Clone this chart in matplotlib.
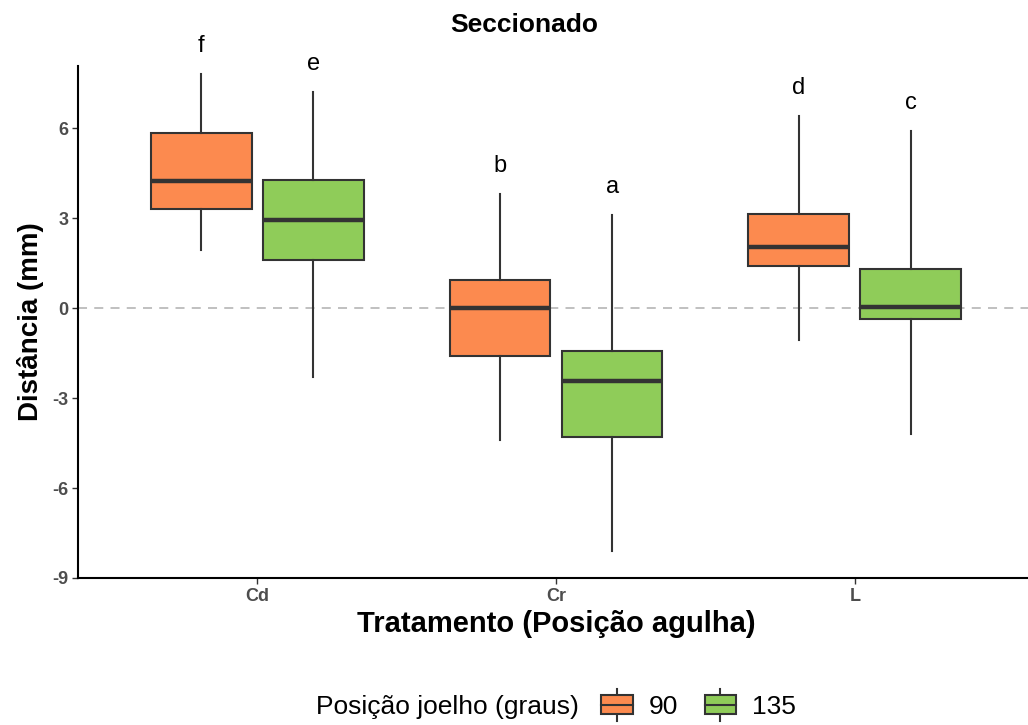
import matplotlib
matplotlib.use("Agg")
import matplotlib.pyplot as plt
from matplotlib.patches import Rectangle
from matplotlib.lines import Line2D
from matplotlib.legend_handler import HandlerBase
from matplotlib.offsetbox import HPacker

plt.rcParams['font.family'] = ['Liberation Sans', 'DejaVu Sans']

categories = ["Cd", "Cr", "L"]
groups = ["90", "135"]
colors = ["#FC8A4F", "#8FCC59"]

# per group: whisker low, Q1, median, Q3, whisker high (per category)
wlo = {"90": [1.93, -4.4, -1.07], "135": [-2.3, -8.1, -4.2]}
q1 = {"90": [3.3, -1.6, 1.4], "135": [1.6, -4.3, -0.37]}
med = {"90": [4.23, 0.0, 2.03], "135": [2.93, -2.43, 0.03]}
q3 = {"90": [5.83, 0.93, 3.13], "135": [4.27, -1.43, 1.3]}
whi = {"90": [7.8, 3.8, 6.4], "135": [7.2, 3.1, 5.9]}
letters = {"90": ["f", "b", "d"], "135": ["e", "a", "c"]}

yticks = [-9, -6, -3, 0, 3, 6]

fig = plt.figure(figsize=(10.28, 7.25), dpi=100)
ax = fig.add_axes([0.0759, 0.2028, 0.93, 0.706])

dodge = 0.1875
width = 0.3375
for gi, g in enumerate(groups):
    off = -dodge if gi == 0 else dodge
    stats = []
    for ci in range(len(categories)):
        stats.append(dict(whislo=wlo[g][ci], q1=q1[g][ci], med=med[g][ci],
                          q3=q3[g][ci], whishi=whi[g][ci], fliers=[]))
    pos = [ci + 1 + off for ci in range(len(categories))]
    ax.bxp(stats, positions=pos, widths=width, showcaps=False, showfliers=False,
           patch_artist=True,
           boxprops=dict(facecolor=colors[gi], edgecolor="#333333", linewidth=1.5),
           medianprops=dict(color="#333333", linewidth=3.2, solid_capstyle='butt'),
           whiskerprops=dict(color="#333333", linewidth=1.5), manage_ticks=False,
           zorder=3)
    for ci in range(len(categories)):
        ax.text(pos[ci], whi[g][ci] + 0.95, letters[g][ci], ha="center", va="center",
                fontsize=17, color="black", clip_on=False)

ax.axhline(0, color="#BBBBBB", linestyle=(0, (5, 4)), linewidth=1.3, zorder=1)

ax.set_xlim(0.4, 3.6)
ax.set_ylim(-9, 8.07)
ax.set_xticks([1, 2, 3])
ax.set_xticklabels(categories)
ax.set_yticks(yticks)
ax.set_yticklabels([str(t) for t in yticks])
for lab in ax.get_xticklabels() + ax.get_yticklabels():
    lab.set_fontweight("bold")
    lab.set_color("#4D4D4D")
    lab.set_fontsize(13)
ax.tick_params(axis="both", length=4, width=1, color="#333333", pad=3)
for s in ["top", "right"]:
    ax.spines[s].set_visible(False)
for s in ["left", "bottom"]:
    ax.spines[s].set_linewidth(1.5)
    ax.spines[s].set_color("black")

ax.set_ylabel("Distância (mm)", fontsize=20, fontweight="bold", labelpad=6)
ax.set_xlabel("Tratamento (Posição agulha)", fontsize=21, fontweight="bold", labelpad=4)
fig.text(0.51, 0.965, "Seccionado", ha="center", va="center", fontsize=19, fontweight="bold")


class BoxHandler(HandlerBase):
    def __init__(self, color):
        super().__init__()
        self.color = color

    def create_artists(self, legend, orig_handle, xdescent, ydescent, width, height, fontsize, trans):
        w = width
        h = height
        y0 = -ydescent
        x0 = -xdescent
        r = Rectangle((x0, y0), w, h, facecolor=self.color, edgecolor="#333333", lw=1.5, transform=trans)
        mid = Line2D([x0, x0 + w], [y0 + h / 2] * 2, color="#333333", lw=1.5, transform=trans)
        wt = Line2D([x0 + w / 2] * 2, [y0 + h, y0 + h + 4.5], color="#333333", lw=1.5, transform=trans)
        wb = Line2D([x0 + w / 2] * 2, [y0 - 4.5, y0], color="#333333", lw=1.5, transform=trans)
        return [wt, wb, r, mid]


h1 = Rectangle((0, 0), 1, 1)
h2 = Rectangle((0, 1), 1, 1)
leg = fig.legend([h1, h2], groups, handler_map={h1: BoxHandler(colors[0]), h2: BoxHandler(colors[1])},
                 loc="center", bbox_to_anchor=(0.541, 0.025), ncol=2, frameon=False,
                 fontsize=19, title="Posição joelho (graus)", title_fontsize=19,
                 handlelength=1.2, handleheight=0.75, handletextpad=0.6, columnspacing=1.0)
title_box = leg._legend_title_box
handle_box = leg._legend_handle_box
leg._legend_box._children = [HPacker(pad=0, sep=16, children=[title_box, handle_box], align="center")]

fig.savefig("out.png", dpi=100)
